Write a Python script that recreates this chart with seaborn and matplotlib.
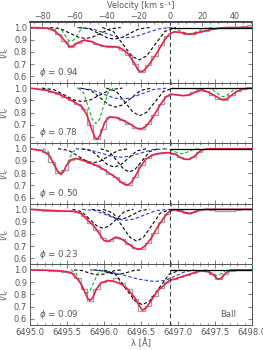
import matplotlib
matplotlib.use("Agg")
import numpy as np
import matplotlib.pyplot as plt
from matplotlib.ticker import MultipleLocator
import seaborn as sns

# ── Constants ────────────────────────────────────────────────────────────────
LAM0 = 6496.897          # Ba II rest wavelength [A]
C_KMS = 299792.458

PHASES = ["0.94", "0.78", "0.50", "0.23", "0.09"]

# observed spectrum, 4 km/s bins (velocity centres)
OBS_V = [-86, -82, -78, -74, -70, -66, -62, -58, -54, -50, -46, -42, -38, -34,
         -30, -26, -22, -18, -14, -10, -6, -2, 2, 6, 10, 14, 18, 22, 26, 30,
         34, 38, 42, 46, 50]

OBS_094 = [1.0, 1.0, 0.995, 0.985, 0.95, 0.89, 0.84, 0.875, 0.895, 0.89, 0.865,
           0.85, 0.84, 0.845, 0.82, 0.775, 0.70, 0.635, 0.69, 0.765, 0.86, 0.93,
           0.965, 0.96, 0.945, 0.95, 0.965, 0.975, 0.99, 0.995, 1.0, 1.0, 1.005,
           1.01, 1.02]
OBS_078 = [1.0, 0.995, 0.985, 0.97, 0.955, 0.93, 0.90, 0.87, 0.83, 0.70, 0.585,
           0.67, 0.765, 0.76, 0.74, 0.71, 0.675, 0.665, 0.705, 0.78, 0.87, 0.935,
           0.955, 0.945, 0.94, 0.965, 0.99, 0.975, 0.945, 0.915, 0.905, 0.94,
           0.98, 0.995, 1.0]
OBS_050 = [1.0, 0.99, 0.97, 0.89, 0.805, 0.825, 0.905, 0.925, 0.905, 0.88, 0.865,
           0.835, 0.795, 0.765, 0.725, 0.705, 0.77, 0.865, 0.925, 0.955, 0.965,
           0.97, 0.96, 0.935, 0.915, 0.93, 0.975, 0.995, 1.0, 1.0, 1.0, 1.0, 1.0,
           1.0, 1.0]
OBS_023 = [1.0, 0.995, 0.99, 0.99, 0.985, 0.985, 0.985, 0.978, 0.945, 0.89,
           0.835, 0.765, 0.74, 0.765, 0.755, 0.715, 0.68, 0.675, 0.725, 0.81, 0.90,
           0.965, 0.995, 0.985, 0.97, 0.975, 0.995, 1.0, 0.995, 0.99, 0.985, 0.99,
           0.995, 1.0, 1.0]
OBS_009 = [1.0, 1.0, 0.997, 0.995, 0.99, 0.985, 0.975, 0.93, 0.84, 0.745, 0.845,
           0.90, 0.92, 0.93, 0.895, 0.84, 0.765, 0.665, 0.705, 0.79, 0.855, 0.905,
           0.925, 0.945, 0.96, 0.975, 0.99, 0.99, 0.965, 0.925, 0.965, 0.995, 1.0,
           1.0, 1.0]

# total model fit (velocity, I/Ic)
FIT_094 = [(-88, 1.0), (-76.3, 0.995), (-72.2, 0.973), (-68.0, 0.924),
           (-64.9, 0.876), (-62.9, 0.843), (-60.8, 0.849), (-57.7, 0.876),
           (-53.5, 0.897), (-49.4, 0.886), (-45.2, 0.862), (-41.1, 0.846),
           (-34.9, 0.843), (-30.7, 0.830), (-26.6, 0.789), (-22.4, 0.708),
           (-20.3, 0.655), (-18.5, 0.638), (-16.5, 0.648), (-14.0, 0.685),
           (-12.0, 0.722), (-7.9, 0.803), (-3.7, 0.897), (-0.6, 0.946),
           (2.5, 0.965), (6.6, 0.959), (10.8, 0.946), (14.9, 0.951),
           (19.1, 0.965), (23.2, 0.978), (27.4, 0.989), (31.5, 0.997),
           (35.7, 1.0), (51, 1.0)]
FIT_078 = [(-88, 1.0), (-78, 0.985), (-70, 0.955), (-64, 0.915), (-59, 0.88),
           (-55, 0.845), (-52, 0.78), (-49.5, 0.68), (-47, 0.595), (-45.5, 0.582),
           (-43.5, 0.625), (-41, 0.72), (-38, 0.765), (-34, 0.76), (-30, 0.74),
           (-25, 0.705), (-21, 0.672), (-18, 0.668), (-15, 0.69), (-11, 0.76),
           (-7, 0.85), (-3, 0.925), (0, 0.95), (4, 0.945), (8, 0.938),
           (12, 0.946), (16, 0.97), (20, 0.985), (24, 0.965), (28, 0.935),
           (32, 0.907), (35, 0.91), (38, 0.94), (41, 0.97), (44, 0.988),
           (48, 1.0), (51, 1.0)]
FIT_050 = [(-88, 1.0), (-80, 0.985), (-75.5, 0.945), (-72.5, 0.87),
           (-70.3, 0.815), (-68.2, 0.79), (-66.5, 0.815), (-65, 0.86), (-62, 0.91),
           (-58.8, 0.92), (-54.7, 0.905), (-50.5, 0.885), (-46.4, 0.865),
           (-42, 0.835), (-38.1, 0.80), (-34, 0.765), (-31.9, 0.74),
           (-29.5, 0.715), (-27.5, 0.703), (-25.5, 0.712), (-23.6, 0.737),
           (-21.5, 0.785), (-19.4, 0.835), (-17.3, 0.88), (-15.3, 0.915),
           (-12, 0.942), (-9, 0.957), (-5, 0.965), (-0.7, 0.967), (3.4, 0.954),
           (6, 0.93), (8.5, 0.915), (11.7, 0.913), (14, 0.93), (16, 0.95),
           (18.5, 0.98), (21, 0.995), (25, 1.0), (51, 1.0)]
FIT_023 = [(-88, 1.0), (-76, 0.992), (-68, 0.986), (-60, 0.984), (-55.6, 0.965),
           (-51.5, 0.911), (-47.3, 0.857), (-44, 0.795), (-41.5, 0.745),
           (-39, 0.738), (-36.5, 0.755), (-34, 0.773), (-31, 0.762), (-27, 0.725),
           (-23, 0.688), (-20.5, 0.673), (-18, 0.68), (-15.5, 0.705), (-12, 0.762),
           (-7.9, 0.857), (-3.7, 0.938), (-0.6, 0.984), (2.5, 0.997), (6.6, 0.984),
           (10.8, 0.966), (13, 0.965), (15, 0.98), (19.1, 0.995), (23.2, 1.0),
           (51, 1.0)]
FIT_009 = [(-88, 1.0), (-76.3, 0.997), (-68, 0.992), (-61.8, 0.978),
           (-58.7, 0.938), (-55.6, 0.884), (-53, 0.81), (-51.5, 0.765),
           (-50, 0.752), (-48.3, 0.775), (-46.3, 0.84), (-43.2, 0.895),
           (-39, 0.913), (-34.9, 0.905), (-30.7, 0.884), (-26.6, 0.843),
           (-22.4, 0.776), (-19.5, 0.71), (-17.4, 0.67), (-15.1, 0.69),
           (-12, 0.749), (-7.9, 0.83), (-3.7, 0.878), (-0.6, 0.915), (2.5, 0.924),
           (6.6, 0.943), (10.8, 0.959), (14.9, 0.978), (19.1, 0.992),
           (23.2, 0.986), (26.3, 0.965), (29.5, 0.925), (31.5, 0.93),
           (34.6, 0.975), (37.8, 1.0), (51, 1.0)]

# individual absorption components (velocity, I/Ic)
BLACK_094 = [
    [(-75, 1), (-68.4, 0.989), (-62.9, 0.955), (-57.4, 0.921), (-53, 0.91),
     (-48.6, 0.921), (-43.1, 0.955), (-37.6, 0.989), (-31, 1)],
    [(-57, 1), (-50.4, 0.989), (-44.9, 0.953), (-39.4, 0.916), (-35, 0.905),
     (-30.6, 0.916), (-25.1, 0.953), (-19.6, 0.989), (-13, 1)],
    [(-42.5, 1), (-35.6, 0.968), (-29.85, 0.868), (-24.1, 0.767), (-19.5, 0.735),
     (-14.9, 0.767), (-9.15, 0.868), (-3.4, 0.968), (3.5, 1)],
]
GREEN_094 = [
    [(-71, 1), (-68.3, 0.986), (-66.05, 0.943), (-63.8, 0.899), (-62, 0.885),
     (-60.2, 0.899), (-57.95, 0.943), (-55.7, 0.986), (-53, 1)],
    [(-2, 1), (2.2, 0.994), (5.7, 0.975), (9.2, 0.956), (12, 0.95),
     (14.8, 0.956), (18.3, 0.975), (21.8, 0.994), (26, 1)],
]
BLUE_094 = [(-58, 1), (-49, 0.99), (-41.5, 0.958), (-34, 0.925), (-28, 0.915),
            (-22, 0.925), (-14.5, 0.958), (-7, 0.99), (2, 1)]

BLACK_078 = [
    [(-80, 1), (-72.5, 0.987), (-66.25, 0.945), (-60, 0.903), (-55, 0.89),
     (-50, 0.903), (-43.75, 0.945), (-37.5, 0.987), (-30, 1)],
    [(-56, 1), (-49.4, 0.981), (-43.9, 0.922), (-38.4, 0.864), (-34, 0.845),
     (-29.6, 0.864), (-24.1, 0.922), (-18.6, 0.981), (-12, 1)],
    [(-40, 1), (-33.7, 0.973), (-28.45, 0.887), (-23.2, 0.802), (-19, 0.775),
     (-14.8, 0.802), (-9.55, 0.887), (-4.3, 0.973), (2, 1)],
]
GREEN_078 = [
    [(-57.5, 1), (-54.2, 0.965), (-51.45, 0.855), (-48.7, 0.745), (-46.5, 0.71),
     (-44.3, 0.745), (-41.55, 0.855), (-38.8, 0.965), (-35.5, 1)],
    [(23, 1), (26, 0.992), (28.5, 0.965), (31, 0.938), (33, 0.93), (35, 0.938),
     (37.5, 0.965), (40, 0.992), (43, 1)],
]
BLUE_078 = [(-58, 1), (-49.6, 0.989), (-42.6, 0.955), (-35.6, 0.921), (-30, 0.91),
            (-24.4, 0.921), (-17.4, 0.955), (-10.4, 0.989), (-2, 1)]

BLACK_050 = [
    [(-70, 1), (-63.4, 0.986), (-57.9, 0.943), (-52.4, 0.899), (-48, 0.885),
     (-43.6, 0.899), (-38.1, 0.943), (-32.6, 0.986), (-26, 1)],
    [(-55, 1), (-49, 0.982), (-44, 0.925), (-39, 0.868), (-35, 0.85),
     (-31, 0.868), (-26, 0.925), (-21, 0.982), (-15, 1)],
    [(-43.5, 1), (-38.1, 0.977), (-33.6, 0.905), (-29.1, 0.833), (-25.5, 0.81),
     (-21.9, 0.833), (-17.4, 0.905), (-12.9, 0.977), (-7.5, 1)],
]
GREEN_050 = [
    [(-79.5, 1), (-76.2, 0.976), (-73.45, 0.90), (-70.7, 0.824), (-68.5, 0.80),
     (-66.3, 0.824), (-63.55, 0.90), (-60.8, 0.976), (-57.5, 1)],
    [(-4, 1), (-0.7, 0.995), (2.05, 0.98), (4.8, 0.965), (7, 0.96), (9.2, 0.965),
     (11.95, 0.98), (14.7, 0.995), (18, 1)],
]
BLUE_050 = [(-59, 1), (-50.6, 0.992), (-43.6, 0.965), (-36.6, 0.938), (-31, 0.93),
            (-25.4, 0.938), (-18.4, 0.965), (-11.4, 0.992), (-3, 1)]

BLACK_023 = [
    [(-61, 1), (-55.3, 0.981), (-50.55, 0.922), (-45.8, 0.864), (-42, 0.845),
     (-38.2, 0.864), (-33.45, 0.922), (-28.7, 0.981), (-23, 1)],
    [(-49, 1), (-43.6, 0.99), (-39.1, 0.96), (-34.6, 0.93), (-31, 0.92),
     (-27.4, 0.93), (-22.9, 0.96), (-18.4, 0.99), (-13, 1)],
    [(-42, 1), (-35.7, 0.969), (-30.45, 0.87), (-25.2, 0.771), (-21, 0.74),
     (-16.8, 0.771), (-11.55, 0.87), (-6.3, 0.969), (0, 1)],
]
GREEN_023 = [
    [(3, 1), (5.7, 0.996), (7.95, 0.985), (10.2, 0.974), (12, 0.97),
     (13.8, 0.974), (16.05, 0.985), (18.3, 0.996), (21, 1)],
]
BLUE_023 = [(-55, 1), (-46.9, 0.989), (-40.15, 0.955), (-33.4, 0.921), (-28, 0.91),
            (-22.6, 0.921), (-15.85, 0.955), (-9.1, 0.989), (-1, 1)]

BLACK_009 = [
    [(-60, 1), (-55.5, 0.995), (-51.75, 0.98), (-48, 0.965), (-45, 0.96),
     (-42, 0.965), (-38.25, 0.98), (-34.5, 0.995), (-30, 1)],
    [(-48, 1), (-43.5, 0.996), (-39.75, 0.982), (-36, 0.969), (-33, 0.965),
     (-30, 0.969), (-26.25, 0.982), (-22.5, 0.996), (-18, 1)],
    [(-41.5, 1), (-34.3, 0.966), (-28.3, 0.857), (-22.3, 0.749), (-17.5, 0.715),
     (-12.7, 0.749), (-6.7, 0.857), (-0.7, 0.966), (6.5, 1)],
]
GREEN_009 = [
    [(-62, 1), (-59, 0.977), (-56.5, 0.905), (-54, 0.833), (-52, 0.81),
     (-50, 0.833), (-47.5, 0.905), (-45, 0.977), (-42, 1)],
    [(21, 1), (23.4, 0.995), (25.4, 0.978), (27.4, 0.96), (29, 0.955),
     (30.6, 0.96), (32.6, 0.978), (34.6, 0.995), (37, 1)],
]
BLUE_009 = [(-50, 1), (-40, 0.99), (-30, 0.96), (-20, 0.925), (-10, 0.905),
            (-3, 0.915), (3, 0.95), (9, 0.985), (15, 1)]

OBS = [OBS_094, OBS_078, OBS_050, OBS_023, OBS_009]
FITS = [FIT_094, FIT_078, FIT_050, FIT_023, FIT_009]
BLACKS = [BLACK_094, BLACK_078, BLACK_050, BLACK_023, BLACK_009]
GREENS = [GREEN_094, GREEN_078, GREEN_050, GREEN_023, GREEN_009]
BLUES = [BLUE_094, BLUE_078, BLUE_050, BLUE_023, BLUE_009]

RED = "#e8204f"
GREEN = "#1fa71f"
BLUE = "#2535e0"
GREY_OBS = "#a0a0a0"
TXT = "#555555"
DASH = (0, (3.0, 2.0))
FS = 6.0


def v2lam(v):
    return LAM0 * (1.0 + np.asarray(v, dtype=float) / C_KMS)


def lam2v(lam):
    return (np.asarray(lam, dtype=float) / LAM0 - 1.0) * C_KMS


def draw_curve(ax, pts, color, lw, ls="-"):
    v, y = zip(*pts)
    sns.lineplot(x=v2lam(v), y=list(y), color=color, lw=lw, ls=ls,
                 sort=False, estimator=None, ax=ax)


sns.set_theme(style="ticks")
plt.rcParams["font.family"] = ["DejaVu Sans"]
plt.rcParams["font.size"] = FS

fig, axes = plt.subplots(5, 1, figsize=(2.63, 3.5), dpi=100, sharex=True)
fig.subplots_adjust(left=30 / 263, right=252 / 263, top=1 - 22 / 350,
                    bottom=1 - 325 / 350, hspace=0)

for i, ax in enumerate(axes):
    # observed spectrum
    sns.lineplot(x=v2lam(OBS_V), y=OBS[i], color=GREY_OBS, lw=0.9,
                 drawstyle="steps-mid", estimator=None, ax=ax)
    # components
    for comp in BLACKS[i]:
        draw_curve(ax, comp, "black", 0.8, DASH)
    draw_curve(ax, BLUES[i], BLUE, 0.8, DASH)
    for comp in GREENS[i]:
        draw_curve(ax, comp, GREEN, 0.8, DASH)
    # total fit
    draw_curve(ax, FITS[i], RED, 1.2)

    ax.plot([LAM0, 6498.0], [1.0, 1.0], color="black", lw=0.9)
    ax.axvline(LAM0, color="#333333", lw=0.7, ls=(0, (4.5, 3)))

    ax.set_xlim(6495.0, 6498.0)
    ax.set_ylim(0.55, 1.045)
    ax.set_yticks([0.6, 0.7, 0.8, 0.9, 1.0])
    ax.xaxis.set_major_locator(MultipleLocator(0.5))
    ax.xaxis.set_minor_locator(MultipleLocator(0.1))
    ax.tick_params(which="both", direction="in", top=True, right=True,
                   colors="#666666", labelcolor=TXT, labelsize=FS, pad=2)
    ax.tick_params(which="major", length=3, width=0.6)
    ax.tick_params(which="minor", length=1.6, width=0.5)
    ax.set_ylabel("I/I$_c$", color=TXT, fontsize=FS)
    ax.yaxis.set_label_coords(-0.085, 0.5)
    for sp in ax.spines.values():
        sp.set_color("#555555")
        sp.set_linewidth(0.7)
    ax.text(0.04, 0.17, r"$\phi$ = " + PHASES[i], transform=ax.transAxes,
            color=TXT, fontsize=6.3, ha="left", va="center")

axes[-1].xaxis.set_major_formatter(matplotlib.ticker.FormatStrFormatter("%.1f"))
axes[-1].set_xlabel("λ [Å]", color=TXT, fontsize=FS, labelpad=1)
axes[-1].text(0.93, 0.17, "BaII", transform=axes[-1].transAxes, color=TXT,
              fontsize=FS, ha="right", va="center")

top = axes[0].secondary_xaxis("top", functions=(lam2v, v2lam))
top.set_xticks([-80, -60, -40, -20, 0, 20, 40])
top.xaxis.set_minor_locator(MultipleLocator(5))
top.tick_params(which="both", direction="in", colors="#666666", labelcolor=TXT,
                labelsize=5.8, pad=0.5)
top.tick_params(which="major", length=3, width=0.6)
top.tick_params(which="minor", length=1.6, width=0.5)
axes[0].tick_params(axis="x", which="both", top=False)
fig.text(0.5 * (30 + 252) / 263, 1 - 0.5 / 350, "Velocity [km s⁻¹]",
         color=TXT, fontsize=5.8, ha="center", va="top")

fig.savefig("out.png", dpi=100)
